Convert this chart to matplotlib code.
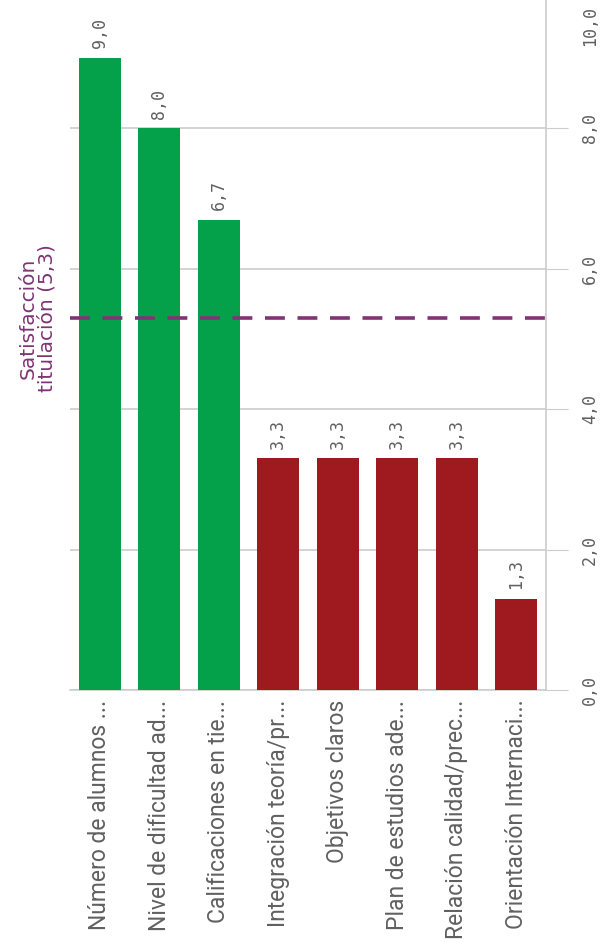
import matplotlib.pyplot as plt
import matplotlib.transforms as mtransforms
import numpy as np

# datos del gráfico
categorias = ['Número de alumnos ...', 'Nivel de dificultad ad...', 'Calificaciones en tie...',
              'Integración teoría/pr...', 'Objetivos claros', 'Plan de estudios ade...',
              'Relación calidad/prec...', 'Orientación Internaci...']
valores = [9.0, 8.0, 6.7, 3.3, 3.3, 3.3, 3.3, 1.3]
media_titulacion = 5.3
texto_media = 'Satisfacción\ntitulación (5,3)'
ticks_valor = [0, 2, 4, 6, 8, 10]

verde = '#04a04a'
rojo = '#9e1a1f'
morado = '#7f3474'
gris_texto = '#606060'
gris_linea = '#cccccc'


def fmt(v):
    return f'{v:.1f}'.replace('.', ',')


fig = plt.figure(figsize=(6.06, 9.47), dpi=100)
ax = fig.add_axes([70 / 606, 1 - 690 / 947, 476 / 606, 702 / 947])

x = np.arange(len(categorias))
colores = [verde if v >= media_titulacion else rojo for v in valores]
ax.bar(x, valores, width=0.7, color=colores, zorder=3)

# etiquetas de valor encima de cada barra
for xi, v in zip(x, valores):
    ax.annotate(fmt(v), (xi, v), xytext=(0, 7), textcoords='offset points',
                rotation=90, ha='center', va='bottom', family='DejaVu Sans Mono',
                fontsize=12, color=gris_texto)

# línea de satisfacción de la titulación
ax.axhline(media_titulacion, color=morado, lw=2.6, ls=(0, (5.5, 3.5)), zorder=4)
ax.text(-0.72, media_titulacion, texto_media, rotation=90, ha='right', va='center',
        color=morado, fontsize=14.5, family='DejaVu Sans', linespacing=1.05,
        multialignment='center')

ax.set_xlim(-0.5, len(categorias) - 0.5)
ax.set_ylim(0, 10)
ax.set_xticks(x)
ax.set_xticklabels(categorias, rotation=90, family='Roboto', fontsize=16.5, color=gris_texto)
ax.tick_params(axis='x', length=0, pad=7)

ax.yaxis.tick_right()
ax.set_yticks(ticks_valor)
ax.set_yticklabels([fmt(t) for t in ticks_valor], rotation=90, va='center',
                   family='DejaVu Sans Mono', fontsize=12, color=gris_texto)
ax.tick_params(axis='y', length=16, color=gris_linea, pad=9)
# la etiqueta superior queda cortada; se baja para que quepa
ultimo = ax.get_yticklabels()[-1]
ultimo.set_transform(ultimo.get_transform() + mtransforms.ScaledTranslation(0, -0.38, fig.dpi_scale_trans))

ax.grid(axis='y', color=gris_linea, lw=1.2, zorder=0)
for lado in ['top', 'left']:
    ax.spines[lado].set_visible(False)
ax.spines['right'].set_color(gris_linea)
ax.spines['bottom'].set_color(gris_linea)
ax.spines['right'].set_linewidth(1.2)
ax.spines['bottom'].set_linewidth(1.2)

fig.savefig('out.png', dpi=100)
